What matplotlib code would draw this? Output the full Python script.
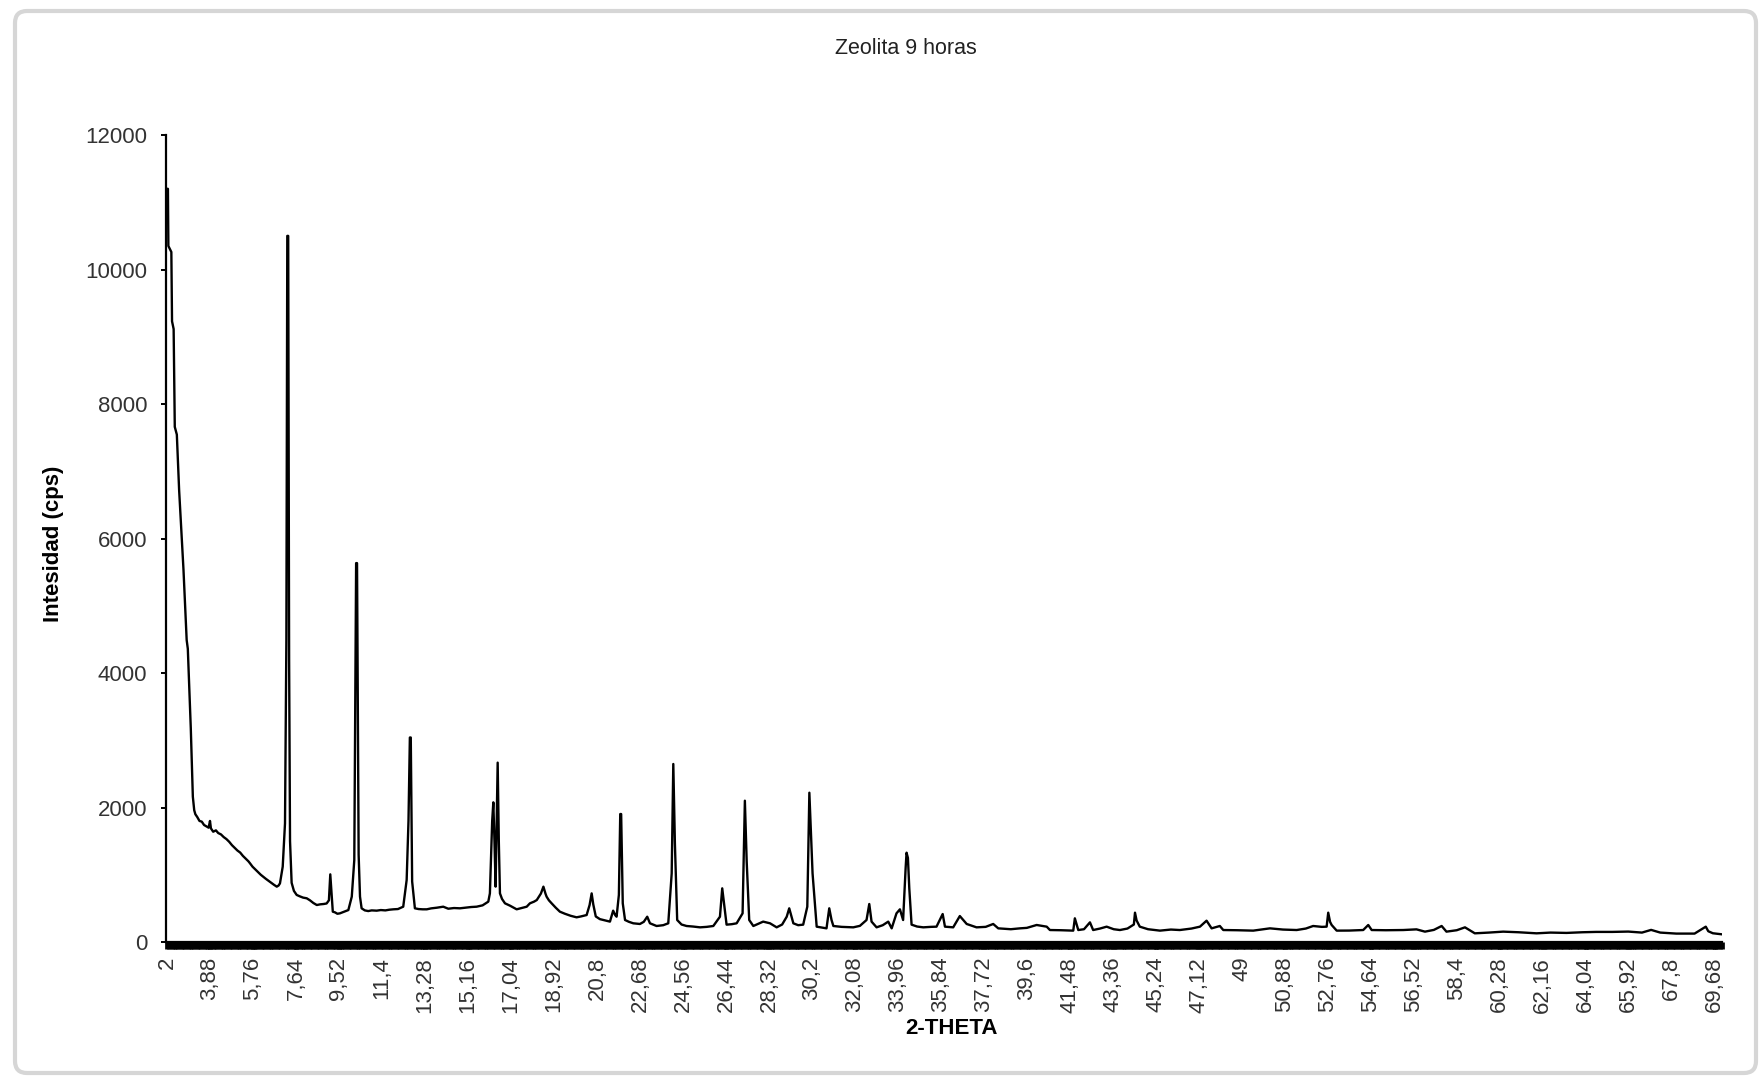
#!/usr/bin/env python3
# coding=UTF-8
"""XRD pattern of the zeolite after 9 hours, Excel-like look."""
import matplotlib
matplotlib.use('Agg')
import matplotlib.pyplot as plt
from matplotlib.patches import FancyBboxPatch
from matplotlib.ticker import MultipleLocator
from matplotlib.transforms import IdentityTransform

plt.rcParams['font.family'] = ['Liberation Sans', 'DejaVu Sans']

# 2-theta positions
two_theta = [
    2.00, 2.04, 2.06, 2.19, 2.22, 2.29, 2.34, 2.43, 2.53, 2.72, 2.86, 2.91,
    3.04, 3.13, 3.19, 3.24, 3.32, 3.42, 3.52, 3.62, 3.72, 3.82, 3.88, 3.92,
    4.02, 4.14, 4.24, 4.36, 4.48, 4.60, 4.72, 4.84, 4.96, 5.08, 5.20, 5.32,
    5.44, 5.56, 5.63, 5.74, 5.86, 5.98, 6.10, 6.21, 6.32, 6.44, 6.56, 6.68,
    6.80, 6.88, 6.94, 7.06, 7.16, 7.22, 7.26, 7.30, 7.34, 7.38, 7.45, 7.55,
    7.67, 7.80, 7.95, 8.11, 8.25, 8.40, 8.55, 8.70, 8.85, 8.98, 9.08, 9.14,
    9.20, 9.25, 9.35, 9.45, 9.56, 9.70, 9.82, 9.93, 10.08, 10.19, 10.27, 10.31,
    10.38, 10.44, 10.51, 10.65, 10.80, 10.95, 11.17, 11.35, 11.55, 11.72, 11.90, 12.10,
    12.33, 12.48, 12.56, 12.62, 12.66, 12.72, 12.84, 13.00, 13.18, 13.36, 13.55, 13.80,
    14.08, 14.30, 14.55, 14.81, 15.05, 15.30, 15.54, 15.80, 16.05, 16.12, 16.22, 16.27,
    16.32, 16.37, 16.42, 16.46, 16.51, 16.56, 16.65, 16.78, 17.00, 17.29, 17.50, 17.73,
    17.87, 18.05, 18.17, 18.35, 18.46, 18.55, 18.60, 18.70, 18.82, 19.00, 19.18, 19.40,
    19.65, 19.91, 20.10, 20.35, 20.48, 20.57, 20.64, 20.75, 20.93, 21.08, 21.37, 21.51,
    21.60, 21.66, 21.76, 21.82, 21.86, 21.93, 22.03, 22.20, 22.39, 22.68, 22.85, 23.00,
    23.12, 23.41, 23.70, 23.92, 24.07, 24.14, 24.21, 24.31, 24.50, 24.72, 25.00, 25.31,
    25.60, 25.89, 26.18, 26.28, 26.36, 26.47, 26.70, 26.91, 27.17, 27.27, 27.35, 27.46,
    27.64, 27.85, 28.07, 28.37, 28.66, 28.90, 29.10, 29.21, 29.39, 29.60, 29.82, 30.00,
    30.09, 30.14, 30.23, 30.41, 30.62, 30.84, 30.96, 31.06, 31.14, 31.50, 32.01, 32.30,
    32.59, 32.71, 32.81, 33.03, 33.30, 33.54, 33.69, 33.90, 34.05, 34.19, 34.30, 34.34,
    34.40, 34.46, 34.56, 34.80, 35.07, 35.40, 35.65, 35.92, 36.02, 36.38, 36.67, 36.97,
    37.40, 37.80, 38.13, 38.35, 38.90, 39.30, 39.60, 40.03, 40.47, 40.61, 41.10, 41.63,
    41.70, 41.85, 42.10, 42.36, 42.50, 42.80, 43.09, 43.40, 43.67, 44.00, 44.28, 44.33,
    44.40, 44.54, 44.90, 45.42, 45.90, 46.29, 46.80, 47.17, 47.46, 47.68, 48.04, 48.19,
    48.80, 49.50, 50.23, 50.80, 51.40, 51.80, 52.12, 52.50, 52.71, 52.78, 52.86, 52.93,
    53.15, 53.70, 54.31, 54.53, 54.68, 55.30, 56.06, 56.64, 57.01, 57.40, 57.74, 57.95,
    58.40, 58.76, 59.19, 59.80, 60.43, 61.10, 61.89, 62.50, 63.20, 63.90, 64.50, 65.20,
    65.90, 66.50, 66.90, 67.30, 68.00, 68.80, 69.29, 69.40, 69.60, 70.00,
]

# intensity in cps, one per 2-theta value
intensity = [
    11200, 11200, 10350, 10260, 9230, 9115, 7660, 7545, 6720, 5540, 4490, 4360,
    3180, 2160, 1960, 1900, 1860, 1800, 1790, 1740, 1720, 1700, 1800, 1690,
    1640, 1660, 1620, 1600, 1560, 1530, 1490, 1440, 1400, 1360, 1330, 1280,
    1240, 1200, 1170, 1120, 1080, 1040, 1000, 970, 940, 910, 880, 850,
    823, 840, 872, 1120, 1765, 4500, 10500, 10500, 4200, 1500, 880, 760,
    700, 680, 660, 650, 620, 580, 550, 560, 565, 573, 620, 1006,
    700, 451, 440, 420, 426, 445, 460, 475, 674, 1219, 5634, 5634,
    1300, 674, 501, 470, 460, 470, 466, 475, 470, 480, 486, 490,
    525, 922, 1800, 3041, 3041, 900, 501, 490, 486, 486, 500, 510,
    525, 495, 505, 501, 510, 520, 525, 545, 600, 723, 1800, 2077,
    1500, 823, 1800, 2667, 1500, 723, 640, 575, 540, 486, 505, 525,
    575, 600, 624, 720, 823, 720, 674, 620, 575, 510, 451, 420,
    390, 367, 380, 401, 550, 723, 560, 380, 340, 327, 303, 466,
    400, 376, 700, 1903, 1903, 575, 327, 300, 278, 268, 300, 376,
    278, 238, 250, 278, 1021, 2647, 1467, 327, 260, 238, 230, 218,
    225, 238, 376, 798, 575, 258, 265, 278, 426, 2101, 1194, 327,
    238, 270, 303, 278, 218, 260, 376, 501, 278, 250, 258, 525,
    2220, 1800, 1021, 228, 215, 203, 501, 327, 238, 225, 218, 240,
    327, 565, 303, 218, 250, 303, 203, 426, 486, 327, 1100, 1328,
    1250, 798, 258, 230, 218, 225, 228, 416, 228, 218, 386, 268,
    218, 225, 268, 203, 190, 203, 210, 253, 228, 178, 175, 169,
    352, 178, 190, 292, 178, 200, 228, 190, 178, 200, 260, 436,
    320, 228, 190, 169, 185, 178, 200, 228, 317, 203, 238, 178,
    175, 169, 203, 185, 178, 200, 238, 225, 228, 436, 300, 253,
    169, 170, 178, 253, 178, 175, 178, 188, 154, 180, 238, 154,
    175, 218, 129, 140, 154, 145, 129, 140, 135, 145, 150, 150,
    155, 140, 180, 140, 125, 125, 228, 160, 130, 114,
]

# category labels shown under the axis, Excel style with decimal commas
tick_labels = [
    '2', '3,88', '5,76', '7,64', '9,52', '11,4', '13,28', '15,16', '17,04',
    '18,92', '20,8', '22,68', '24,56', '26,44', '28,32', '30,2', '32,08',
    '33,96', '35,84', '37,72', '39,6', '41,48', '43,36', '45,24', '47,12',
    '49', '50,88', '52,76', '54,64', '56,52', '58,4', '60,28', '62,16',
    '64,04', '65,92', '67,8', '69,68',
]
tick_pos = [float(s.replace(',', '.')) for s in tick_labels]

y_ticks = [0, 2000, 4000, 6000, 8000, 10000, 12000]


def main():
    fig = plt.figure(figsize=(17.59, 10.79), dpi=100)
    fig.patch.set_facecolor('white')

    # rounded grey chart border
    frame = FancyBboxPatch((15, 6), 1741, 1062,
                           boxstyle='round,pad=0,rounding_size=12',
                           transform=IdentityTransform(),
                           facecolor='none', edgecolor='#d6d6d6',
                           linewidth=3.0, zorder=0)
    fig.patches.append(frame)

    ax = fig.add_axes([0.09437, 0.12697, 0.8846, 0.74791])
    ax.set_facecolor('none')
    ax.plot(two_theta, intensity, color='black', lw=1.7)

    ax.set_xlim(1.956, 70.0)
    ax.set_ylim(0, 12000)

    for side in ('top', 'right'):
        ax.spines[side].set_visible(False)
    ax.spines['left'].set_linewidth(1.6)
    ax.spines['bottom'].set_linewidth(1.6)

    ax.set_yticks(y_ticks, [str(v) for v in y_ticks])
    ax.tick_params(axis='y', direction='out', length=3.6, width=1.4,
                   pad=10, labelsize=16, labelcolor='#333333')

    ax.set_xticks(tick_pos, tick_labels, rotation=90)
    # dense category tick marks merge into the thick band under the axis
    ax.xaxis.set_minor_locator(MultipleLocator(0.1))
    ax.tick_params(axis='x', which='major', direction='out', length=4.7,
                   width=3.4, pad=6, labelsize=16, labelcolor='#333333')
    ax.tick_params(axis='x', which='minor', direction='out', length=4.7,
                   width=3.4)

    ax.set_xlabel('2-THETA', fontsize=16, fontweight='bold', va='center')
    ax.xaxis.set_label_coords(0.505, -0.1066)
    ax.set_ylabel('Intesidad (cps)', fontsize=16, fontweight='bold',
                  va='center', ha='center')
    ax.yaxis.set_label_coords(-0.0726, 0.493)

    fig.text(906 / 1759, 1 - 49 / 1079, 'Zeolita 9 horas', ha='center',
             va='center', fontsize=15.5, color='#222222')

    fig.savefig('out.png', dpi=100)


if __name__ == '__main__':
    main()
